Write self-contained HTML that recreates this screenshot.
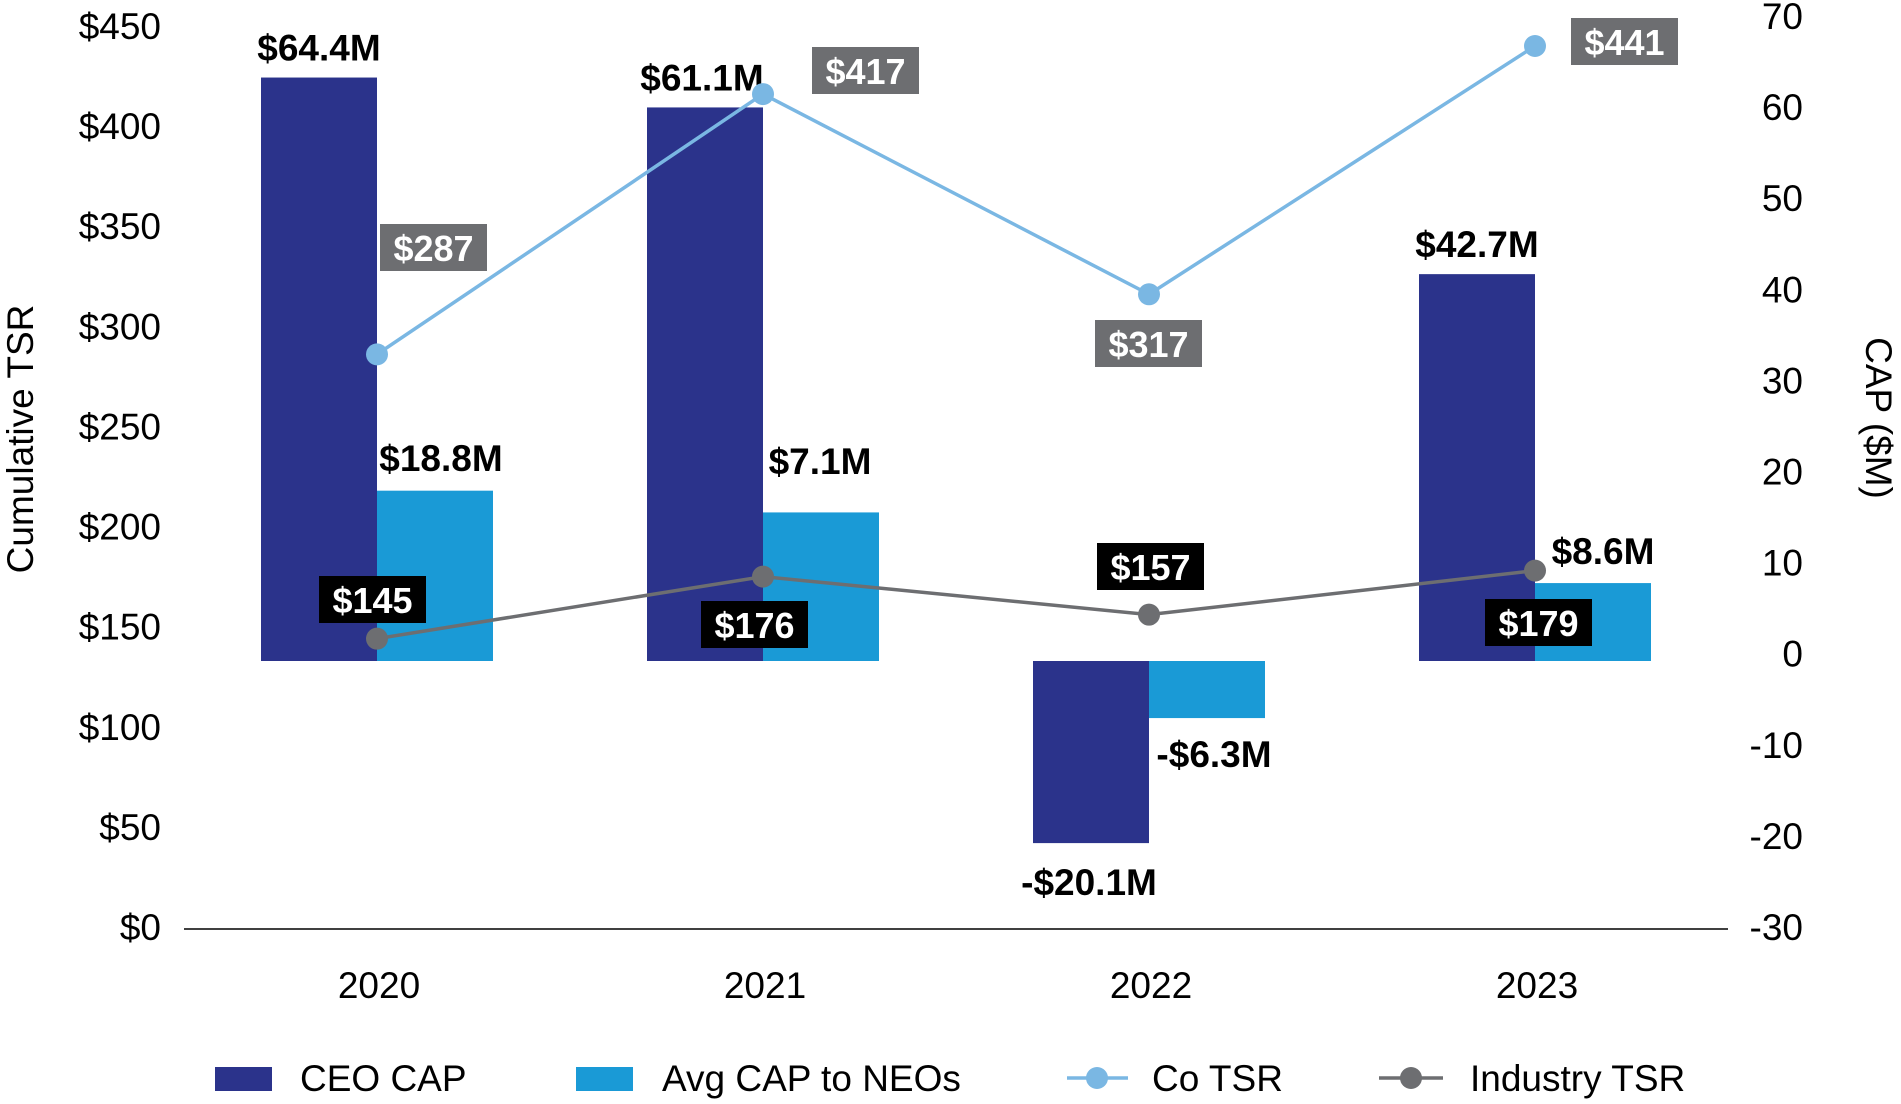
<!DOCTYPE html>
<html><head><meta charset="utf-8"><style>
html,body{margin:0;padding:0;background:#fff;}
svg{display:block;font-family:"Liberation Sans",Arial,sans-serif;}
</style></head><body>
<svg id="chart" width="1901" height="1104" viewBox="0 0 1901 1104"></svg>
<script>
const categories=["2020","2021","2022","2023"];
const ceoCap=[64.4,61.1,-20.1,42.7];
const neoCap=[18.8,16.4,-6.3,8.6];
const ceoLabels=["$64.4M","$61.1M","-$20.1M","$42.7M"];
const neoLabels=["$18.8M","$7.1M","-$6.3M","$8.6M"];
const coTsr=[287,417,317,441];
const indTsr=[145,176,157,179];
const leftTicks=[0,50,100,150,200,250,300,350,400,450];
const rightTicks=[-30,-20,-10,0,10,20,30,40,50,60,70];

const NS="http://www.w3.org/2000/svg";
const svg=document.getElementById("chart");
function mk(tag,attrs,parent){const e=document.createElementNS(NS,tag);for(const k in attrs)e.setAttribute(k,attrs[k]);(parent||svg).appendChild(e);return e;}
const X0=184,X1=1728,Y0=929,Ytop=28;
const band=(X1-X0)/categories.length;
const xC=i=>X0+band*(i+0.5);
const yL=v=>Y0-(v/450)*(Y0-Ytop);
const yR=v=>661-9.06*v;
const yRT=v=>929-((v+30)/100)*911;
const BW=116;
const FS=37;

leftTicks.forEach(v=>{const t=mk("text",{x:161,y:yL(v)+11,"text-anchor":"end","font-size":FS,fill:"#000"});t.textContent="$"+v;

});
rightTicks.forEach(v=>{const t=mk("text",{x:1803,y:yRT(v)+11,"text-anchor":"end","font-size":FS,fill:"#000"});t.textContent=v;

});
let t=mk("text",{x:0,y:0,transform:"translate(33,439) rotate(-90)","text-anchor":"middle","font-size":FS,fill:"#000"});t.textContent="Cumulative TSR";


t=mk("text",{x:0,y:0,transform:"translate(1866,418) rotate(90)","text-anchor":"middle","font-size":FS,fill:"#000"});t.textContent="CAP ($M)";



categories.forEach((c,i)=>{
  const z=yR(0);
  let v=ceoCap[i],y=yR(v);
  let r=mk("rect",{x:xC(i)-BW,y:Math.min(y,z),width:BW,height:Math.abs(z-y),fill:"#2b338b"});
  
  
  v=neoCap[i];y=yR(v);
  r=mk("rect",{x:xC(i),y:Math.min(y,z),width:BW,height:Math.abs(z-y),fill:"#1a9ad6"});
  
  
});
let ax=mk("line",{x1:X0,x2:X1,y1:Y0,y2:Y0,stroke:"#000","stroke-width":1.5});


categories.forEach((c,i)=>{const t=mk("text",{x:xC(i)+2,y:998,"text-anchor":"middle","font-size":FS,fill:"#000"});t.textContent=c;

});

categories.forEach((c,i)=>{
  let v=ceoCap[i];
  let y=v>=0?yR(v)-17:yR(v)+52;
  let tx=mk("text",{x:xC(i)-BW/2-(v<0?2:0)+(i==1?-3:0),y:y,"text-anchor":"middle","font-size":FS,"font-weight":"bold",fill:"#000"});
  tx.textContent=ceoLabels[i];
  
  
  let nx=[441,820,1214,1603][i];
  let ny=[471,474,767,564][i];
  tx=mk("text",{x:nx,y:ny,"text-anchor":"middle","font-size":FS,"font-weight":"bold",fill:"#000"});
  tx.textContent=neoLabels[i];
  
  
});

function series(vals,color,name){
  const pts=vals.map((v,i)=>xC(i)+","+yL(v)).join(" ");
  const pl=mk("polyline",{points:pts,fill:"none",stroke:color,"stroke-width":3.5});
  
  
  vals.forEach((v,i)=>{const c=mk("circle",{cx:xC(i),cy:yL(v),r:11,fill:color});
  
  });
}
series(coTsr,"#7ab7e3","co-tsr");
series(indTsr,"#6d6e71","industry-tsr");

const coBoxX=[380,812,1095,1571],coBoxY=[224,47,320,18];
const inBoxX=[319,701,1097,1485],inBoxY=[576,601,543,599];
function box(x,y,txt,fill,name){
  const g=mk("g",{});
  
  
  mk("rect",{x:x,y:y,width:107,height:47,fill:fill},g);
  const tt=mk("text",{x:x+53.5,y:y+37,"text-anchor":"middle","font-size":36,"font-weight":"bold",fill:"#fff"},g);
  tt.textContent=txt;
}
coTsr.forEach((v,i)=>box(coBoxX[i],coBoxY[i],"$"+v,"#6d6e71","co-tsr-label"));
indTsr.forEach((v,i)=>box(inBoxX[i],inBoxY[i],"$"+v,"#000","industry-tsr-label"));

function legText(x,s,name){const t=mk("text",{x:x,y:1091,"font-size":FS,fill:"#000"});t.textContent=s;

}
let lr=mk("rect",{x:215,y:1067,width:57,height:24,fill:"#2b338b"});


legText(300,"CEO CAP","legend-ceo-cap-text");
lr=mk("rect",{x:576,y:1067,width:57,height:24,fill:"#1a9ad6"});


legText(662,"Avg CAP to NEOs","legend-neo-cap-text");
let ll=mk("line",{x1:1067,x2:1128,y1:1078,y2:1078,stroke:"#7ab7e3","stroke-width":3.5});


let lc=mk("circle",{cx:1097,cy:1078,r:11,fill:"#7ab7e3"});


legText(1152,"Co TSR","legend-co-tsr-text");
ll=mk("line",{x1:1379,x2:1443,y1:1078,y2:1078,stroke:"#6d6e71","stroke-width":3.5});


lc=mk("circle",{cx:1411,cy:1078,r:11,fill:"#6d6e71"});


legText(1470,"Industry TSR","legend-industry-tsr-text");
</script>
</body></html>
